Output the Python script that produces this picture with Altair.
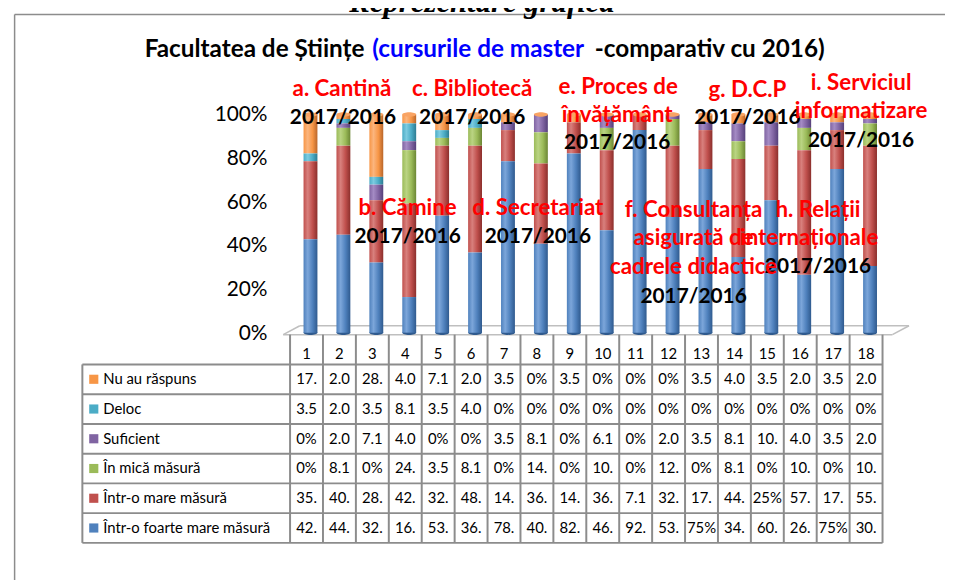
import altair as alt
import pandas as pd

# ---------------- data (percent) ----------------
columns = list(range(1, 19))
series_names = ["Nu au răspuns", "Deloc", "Suficient", "În mică măsură",
                "Într-o mare măsură", "Într-o foarte mare măsură"]  # table order, top -> bottom
nu_au_raspuns = [17.86, 2.04, 28.57, 4.08, 7.14, 2.04, 3.57, 0, 3.57, 0, 0, 0, 3.57, 4.08, 3.57, 2.04, 3.57, 2.04]
deloc = [3.57, 2.04, 3.57, 8.16, 3.57, 4.08, 0, 0, 0, 0, 0, 0, 0, 0, 0, 0, 0, 0]
suficient = [0, 2.04, 7.14, 4.08, 0, 0, 3.57, 8.16, 0, 6.12, 0, 2.04, 3.57, 8.16, 10.71, 4.08, 3.57, 2.04]
in_mica_masura = [0, 8.16, 0, 24.49, 3.57, 8.16, 0, 14.29, 0, 10.20, 0, 12.24, 0, 8.16, 0, 10.20, 0, 10.20]
intr_o_mare_masura = [35.71, 40.82, 28.57, 42.86, 32.14, 48.98, 14.29, 36.73, 14.29, 36.73, 7.14, 32.65,
                      17.86, 44.90, 25.00, 57.14, 17.86, 55.10]
intr_o_foarte_mare_masura = [42.86, 44.90, 32.14, 16.33, 53.57, 36.73, 78.57, 40.82, 82.14, 46.94, 92.86,
                             53.06, 75.00, 34.69, 60.71, 26.53, 75.00, 30.61]
series_values = [nu_au_raspuns, deloc, suficient, in_mica_masura, intr_o_mare_masura, intr_o_foarte_mare_masura]
series_colors = ["#F79646", "#4BACC6", "#8064A2", "#9BBB59", "#C0504D", "#4F81BD"]
series_light = ["#FBB57E", "#7CCBE0", "#A48BC4", "#BAD483", "#D8807D", "#7CA6DA"]
series_dark = ["#B9662A", "#2D7C92", "#55407A", "#6B8634", "#8B2F2C", "#2F5A8E"]
y_ticks = [0, 20, 40, 60, 80, 100]
y_tick_labels = ["0%", "20%", "40%", "60%", "80%", "100%"]

title_parts = ["Facultatea de Științe", "(cursurile de master", "-comparativ cu 2016)"]
title_colors = ["#000000", "#0000FF", "#000000"]
header_text = "Reprezentare grafică"

red_labels = ["a. Cantină", "c. Bibliotecă", "b. Cămine", "d. Secretariat",
              "e. Proces de", "învățământ", "g. D.C.P", "i. Serviciul", "informatizare",
              "f. Consultanța", "asigurată de", "cadrele  didactice", "h. Relații", "internaționale"]
black_labels = ["2017/2016"] * 9

# ---------------- layout geometry ----------------
W, H = 817, 433
X_MIN, X_MAX = -5.81, 18.5
Y_MIN, Y_MAX = -96.818, 100
PXU = W / (X_MAX - X_MIN)
PYU = H / (Y_MAX - Y_MIN)


def ux(px):
    return 0.5 + (px - 290) / PXU


def vy(py):
    return (333 - py) / PYU


HB = vy(365)          # header bottom (top of first table row)
RH = 30 / PYU         # table row height
row_edges = [HB - k * RH for k in range(7)]
row_centers = [HB - (k + 0.5) * RH for k in range(6)]

red_pos = [(343, 87), (476, 87), (410, 207), (543, 207),
           (625, 85), (624, 114), (757, 88), (873, 81), (873, 110),
           (702, 209), (702, 238), (702, 267), (829, 209), (820, 238)]
black_pos = [(344, 117), (476, 117), (410, 237), (543, 237), (624, 142),
             (757, 117), (873, 140), (702, 297), (829, 267)]

FONT = "Lato"
xs = alt.Scale(domain=[X_MIN, X_MAX], nice=False, zero=False)
ys = alt.Scale(domain=[Y_MIN, Y_MAX], nice=False, zero=False)


def X(f):
    return alt.X(f, type="quantitative", scale=xs, axis=None)


def Y(f):
    return alt.Y(f, type="quantitative", scale=ys, axis=None)


ELLIPSE = "M -1 0 A 1 0.32 0 1 0 1 0 A 1 0.32 0 1 0 -1 0 Z"

# ---------------- bars ----------------
rows = []
for i, (name, vals) in enumerate(zip(series_names, series_values)):
    for c, v in zip(columns, vals):
        rows.append({"col": c, "series": name, "value": v, "order": 5 - i})
bars_df = pd.DataFrame(rows)

base = alt.Chart(bars_df).transform_stack(
    stack="value", groupby=["col"], as_=["y0", "y1"],
    sort=[alt.SortField("order", order="ascending")])


def grad(i):
    return alt.LinearGradient(
        gradient="linear", x1=0, x2=1, y1=0, y2=0,
        stops=[alt.GradientStop(color=series_colors[i], offset=0),
               alt.GradientStop(color=series_light[i], offset=0.3),
               alt.GradientStop(color=series_colors[i], offset=0.65),
               alt.GradientStop(color=series_dark[i], offset=1)])


# rounded cylinder bottom
bottom_cap = base.transform_filter(
    alt.FieldEqualPredicate(field="order", equal=0)).mark_point(
    shape=ELLIPSE, size=196, filled=True, opacity=1, strokeWidth=0, xOffset=4,
    color=series_dark[5]).encode(x=X("col"), y=Y("y0"))

bar_layers = [bottom_cap]
for i, name in enumerate(series_names):
    layer = base.transform_filter(alt.FieldEqualPredicate(field="series", equal=name)).mark_bar(
        size=14, xOffset=4, color=grad(i)).encode(
        x=X("col"), y=Y("y0"), y2="y1:Q")
    bar_layers.append(layer)

# cylinder top cap (colour of the top series)
top_cap = base.transform_filter(
    alt.FieldEqualPredicate(field="order", equal=5)).mark_point(
    shape=ELLIPSE, size=196, filled=True, opacity=1, strokeWidth=0, xOffset=4,
    color="#F9A464").encode(x=X("col"), y=Y("y1"))
bar_layers.append(top_cap)

# y tick labels (value axis)
ytick_df = pd.DataFrame({"x": [ux(267)] * len(y_ticks), "y": y_ticks, "t": y_tick_labels})
ytick_txt = alt.Chart(ytick_df).mark_text(
    font=FONT, fontSize=21, color="#000000", align="right", baseline="middle", dy=1).encode(
    x=X("x"), y=Y("y"), text="t:N")

# ---------------- 3D floor ----------------
floor_df = pd.DataFrame({
    "x": [ux(283), ux(300), ux(283), ux(905)],
    "x2": [ux(905), ux(922), ux(300), ux(922)],
    "y": [vy(335), vy(326), vy(335), vy(335)],
    "y2": [vy(335), vy(326), vy(326), vy(326)],
})
floor = alt.Chart(floor_df).mark_rule(color="#BFBFBF", strokeWidth=1.5).encode(
    x=X("x"), x2="x2:Q", y=Y("y"), y2="y2:Q")

# ---------------- table ----------------
grid_rows = []
for e in row_edges:
    grid_rows.append({"x": X_MIN, "x2": 18.5, "y": e, "y2": e})
for k in range(19):
    grid_rows.append({"x": 0.5 + k, "x2": 0.5 + k, "y": vy(335), "y2": row_edges[-1]})
grid_rows.append({"x": X_MIN, "x2": X_MIN, "y": HB, "y2": row_edges[-1]})
grid = alt.Chart(pd.DataFrame(grid_rows)).mark_rule(color="#8C8C8C", strokeWidth=2).encode(
    x=X("x"), x2="x2:Q", y=Y("y"), y2="y2:Q")


def cell_text(v):
    if float(v).is_integer():
        return f"{int(v)}%"
    return f"{v:.2f}%"[:3]


cells = []
for i, vals in enumerate(series_values):
    for c, v in zip(columns, vals):
        cells.append({"col": c, "y": row_centers[i], "label": cell_text(v)})
cell_txt = alt.Chart(pd.DataFrame(cells)).mark_text(
    font=FONT, fontSize=15, color="#000000", baseline="middle", align="center").encode(
    x=X("col"), y=Y("y"), text="label:N")

header_df = pd.DataFrame({"col": columns, "y": [HB] * 18, "label": [str(c) for c in columns]})
header_txt = alt.Chart(header_df).mark_text(
    font=FONT, fontSize=15, color="#000000", baseline="bottom", align="center", dy=-2).encode(
    x=X("col"), y=Y("y"), text="label:N")

legend_df = pd.DataFrame({"x": [X_MIN] * 6, "y": row_centers, "name": series_names,
                          "color": series_colors})
legend_sq = alt.Chart(legend_df).mark_square(size=85, opacity=1, xOffset=11.5).encode(
    x=X("x"), y=Y("y"), color=alt.Color("color:N", scale=None))
legend_txt = alt.Chart(legend_df).mark_text(
    font=FONT, fontSize=15, color="#000000", baseline="middle", align="left", dx=21).encode(
    x=X("x"), y=Y("y"), text="name:N")

# ---------------- titles & annotations ----------------
title_df = pd.DataFrame({"x": [ux(366), ux(374), ux(601)], "y": [vy(48)] * 3,
                         "t": title_parts, "color": title_colors})
title_layers = []
for j, al in enumerate(["right", "left", "left"]):
    title_layers.append(alt.Chart(title_df.iloc[[j]]).mark_text(
        font=FONT, fontSize=24.5, fontWeight="bold", align=al, baseline="middle").encode(
        x=X("x"), y=Y("y"), text="t:N", color=alt.Color("color:N", scale=None)))

head_df = pd.DataFrame({"x": [ux(486)], "y": [vy(10)], "t": [header_text]})
head = alt.Chart(head_df).mark_text(
    font="Liberation Serif", fontSize=31, fontWeight="bold", fontStyle="italic",
    align="center", baseline="alphabetic", color="#000000").encode(
    x=X("x"), y=Y("y"), text="t:N")

red_df = pd.DataFrame({"x": [ux(p[0]) for p in red_pos], "y": [vy(p[1]) for p in red_pos],
                       "t": red_labels})
red_txt = alt.Chart(red_df).mark_text(
    font=FONT, fontSize=22.5, fontWeight="bold", color="#FF0000", align="center",
    baseline="middle").encode(x=X("x"), y=Y("y"), text="t:N")

black_df = pd.DataFrame({"x": [ux(p[0]) for p in black_pos], "y": [vy(p[1]) for p in black_pos],
                         "t": black_labels})
black_txt = alt.Chart(black_df).mark_text(
    font=FONT, fontSize=21, fontWeight="bold", color="#000000", align="center",
    baseline="middle").encode(x=X("x"), y=Y("y"), text="t:N")

# ---------------- outer frame ----------------
frame_df = pd.DataFrame({"x": [ux(8.75), ux(8.75)], "x2": [ux(960), ux(8.75)],
                         "y": [vy(12), vy(12)], "y2": [vy(12), vy(590)]})
frame = alt.Chart(frame_df).mark_rule(color="#8C8C8C", strokeWidth=1.5).encode(
    x=X("x"), x2="x2:Q", y=Y("y"), y2="y2:Q")

chart = alt.layer(
    frame, head, floor, *bar_layers, ytick_txt, grid, cell_txt, header_txt, legend_sq, legend_txt,
    *title_layers, black_txt, red_txt
).properties(
    width=W, height=H,
    autosize=alt.AutoSizeParams(type="none"),
    padding={"left": 70, "top": 105, "right": 58, "bottom": 34},
    background="#FFFFFF",
).configure_view(stroke=None)

chart.save("out.html", embed_options={"renderer": "svg", "actions": False})
